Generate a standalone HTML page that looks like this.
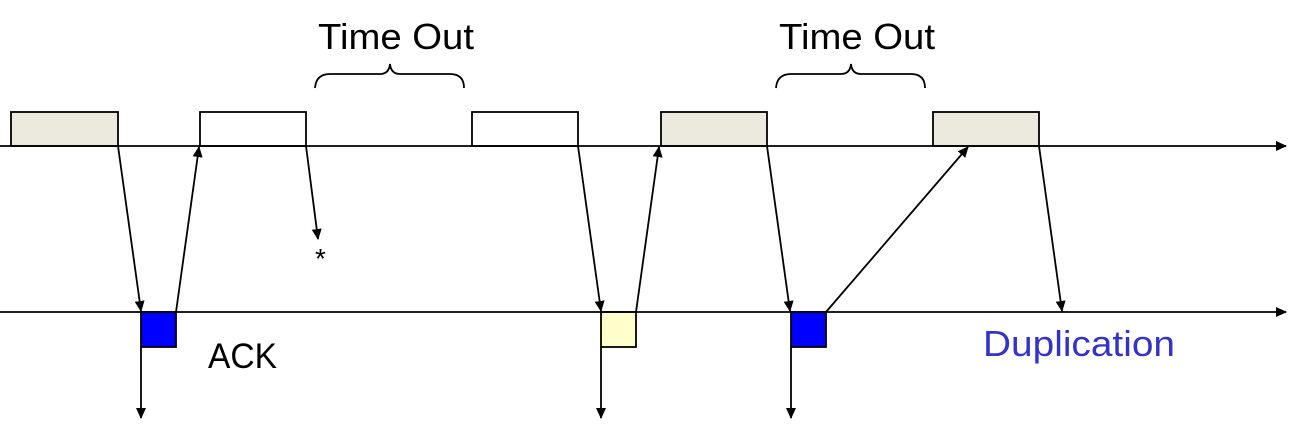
<!DOCTYPE html>
<html><head><style>body{margin:0;background:#fff}svg{display:block}</style></head><body>
<svg width="1300" height="432" xmlns="http://www.w3.org/2000/svg" font-family="Liberation Sans, DejaVu Sans, sans-serif">
<defs><marker id="a" markerWidth="12" markerHeight="12" refX="10" refY="5" orient="auto" markerUnits="userSpaceOnUse"><path d="M0,0 L11,5 L0,10 z" fill="#000"/></marker></defs>
<g stroke="#000" stroke-width="1.8">
<rect x="11" y="112" width="107" height="34" fill="#ECEADF"/>
<rect x="200" y="112" width="106" height="34" fill="#fff"/>
<rect x="472" y="112" width="106" height="34" fill="#fff"/>
<rect x="661" y="112" width="106" height="34" fill="#ECEADF"/>
<rect x="933" y="112" width="106" height="34" fill="#ECEADF"/>
<rect x="141" y="312" width="35" height="35" fill="#0000FF"/>
<rect x="601" y="312" width="35" height="35" fill="#FFFFCC"/>
<rect x="791" y="312" width="35" height="35" fill="#0000FF"/>
<g fill="none" marker-end="url(#a)">
<line x1="0" y1="146" x2="1286" y2="146"/>
<line x1="0" y1="312" x2="1286" y2="312"/>
<line x1="118" y1="146" x2="141" y2="311"/>
<line x1="176" y1="312" x2="199" y2="147"/>
<line x1="306" y1="146" x2="318" y2="239"/>
<line x1="141" y1="347" x2="141" y2="418"/>
<line x1="578" y1="146" x2="601" y2="311"/>
<line x1="636" y1="312" x2="659" y2="147"/>
<line x1="601" y1="347" x2="601" y2="418"/>
<line x1="767" y1="146" x2="790" y2="311"/>
<line x1="826" y1="312" x2="968" y2="147"/>
<line x1="791" y1="347" x2="791" y2="418"/>
<line x1="1039" y1="146" x2="1062" y2="311"/>
</g>
<path d="M315,88 Q316,74 330,74 L380,74 Q389,74 390,64 Q391,74 400,74 L450,74 Q464,74 464,88" fill="none"/>
<path d="M776,88 Q777,74 791,74 L841,74 Q850,74 851,64 Q852,74 861,74 L911,74 Q925,74 925,88" fill="none"/>
</g>
<g font-size="36">
<text x="318" y="49" textLength="156" lengthAdjust="spacingAndGlyphs">Time Out</text>
<text x="779" y="49" textLength="156" lengthAdjust="spacingAndGlyphs">Time Out</text>
<text x="208" y="368" font-size="35" textLength="69" lengthAdjust="spacingAndGlyphs">ACK</text>
<text x="983" y="356" fill="#3333CC" textLength="192" lengthAdjust="spacingAndGlyphs">Duplication</text>
<text x="315" y="268" font-size="28">*</text>
</g>
</svg>
</body></html>
